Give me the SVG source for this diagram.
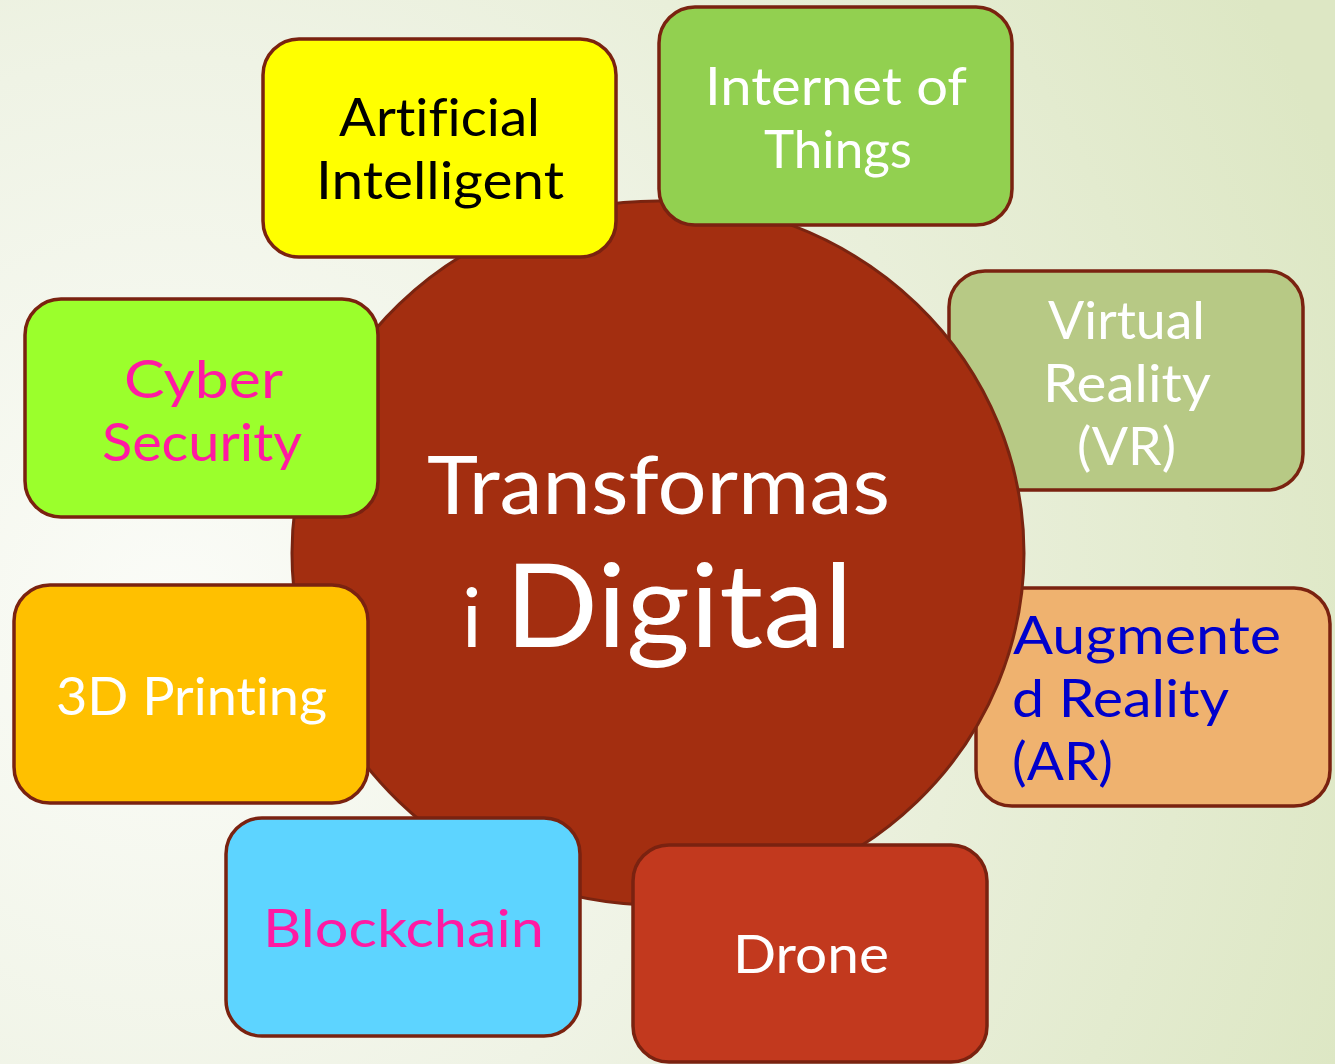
<svg xmlns="http://www.w3.org/2000/svg" width="1335" height="1064" viewBox="0 0 1335 1064">
<defs>
<radialGradient id="bg" gradientUnits="userSpaceOnUse" cx="170" cy="620" r="1250">
<stop offset="0" stop-color="#fbfcf8"/>
<stop offset="0.45" stop-color="#eff3e5"/>
<stop offset="1" stop-color="#dde7c4"/>
</radialGradient>
<style>
.box{stroke:#7a2210;stroke-width:3.5}
text{font-family:Lato,"Noto Sans","Liberation Sans",sans-serif;font-weight:400;font-variant-ligatures:none}
.t{font-size:53px}
.w{fill:#ffffff}
</style>
</defs>
<rect width="1335" height="1064" fill="url(#bg)"/>
<g id="vr">
<rect class="box" x="949" y="271" width="354" height="219" rx="36" fill="#b7c985"/>
<text class="t w" x="1048" y="339" textLength="157" lengthAdjust="spacingAndGlyphs">Virtual</text>
<text class="t w" x="1043" y="402" textLength="168" lengthAdjust="spacingAndGlyphs">Reality</text>
<text class="t w" x="1077" y="465" textLength="99" lengthAdjust="spacingAndGlyphs">(VR)</text>
</g>
<g id="ar">
<rect class="box" x="976" y="588" width="354" height="218" rx="36" fill="#efb26f"/>
<text class="t" fill="#0000cc" x="1013" y="654" textLength="268" lengthAdjust="spacingAndGlyphs">Augmente</text>
<text class="t" fill="#0000cc" x="1012" y="717" textLength="217" lengthAdjust="spacingAndGlyphs">d Reality</text>
<text class="t" fill="#0000cc" x="1012" y="780" textLength="101" lengthAdjust="spacingAndGlyphs">(AR)</text>
</g>
<g id="center">
<ellipse cx="658" cy="553" rx="366" ry="352" fill="#a32e10" stroke="#7a2410" stroke-width="3"/>
<text font-size="82" fill="#ffffff" x="427" y="514" textLength="463" lengthAdjust="spacingAndGlyphs">Transformas</text>
<text fill="#ffffff" y="647"><tspan x="462" font-size="82">i</tspan><tspan x="505" font-size="116" textLength="348" lengthAdjust="spacingAndGlyphs">Digital</tspan></text>
</g>
<g id="ai">
<rect class="box" x="263" y="39" width="353" height="218" rx="36" fill="#ffff00"/>
<text class="t" fill="#000000" x="339" y="136" textLength="201" lengthAdjust="spacingAndGlyphs">Artificial</text>
<text class="t" fill="#000000" x="316" y="199" textLength="248" lengthAdjust="spacingAndGlyphs">Intelligent</text>
</g>
<g id="iot">
<rect class="box" x="659" y="7" width="353" height="218" rx="36" fill="#92d050"/>
<text class="t w" x="705" y="105" textLength="262" lengthAdjust="spacingAndGlyphs">Internet of</text>
<text class="t w" x="764" y="168" textLength="148" lengthAdjust="spacingAndGlyphs">Things</text>
</g>
<g id="cyber">
<rect class="box" x="25" y="299" width="353" height="218" rx="36" fill="#9bff2c"/>
<text class="t" fill="#ff1aa3" x="124" y="398" textLength="159" lengthAdjust="spacingAndGlyphs">Cyber</text>
<text class="t" fill="#ff1aa3" x="102" y="461" textLength="200" lengthAdjust="spacingAndGlyphs">Security</text>
</g>
<g id="printing">
<rect class="box" x="14" y="585" width="354" height="218" rx="36" fill="#ffc000"/>
<text class="t w" x="56" y="715" textLength="271" lengthAdjust="spacingAndGlyphs">3D Printing</text>
</g>
<g id="blockchain">
<rect class="box" x="226" y="818" width="354" height="218" rx="36" fill="#5dd4ff"/>
<text class="t" fill="#ff1aa3" x="263" y="947" textLength="281" lengthAdjust="spacingAndGlyphs">Blockchain</text>
</g>
<g id="drone">
<rect class="box" x="633" y="845" width="354" height="217" rx="36" fill="#c2391e"/>
<text class="t w" x="733" y="973" textLength="156" lengthAdjust="spacingAndGlyphs">Drone</text>
</g>
<g id="connectors"/>
</svg>
